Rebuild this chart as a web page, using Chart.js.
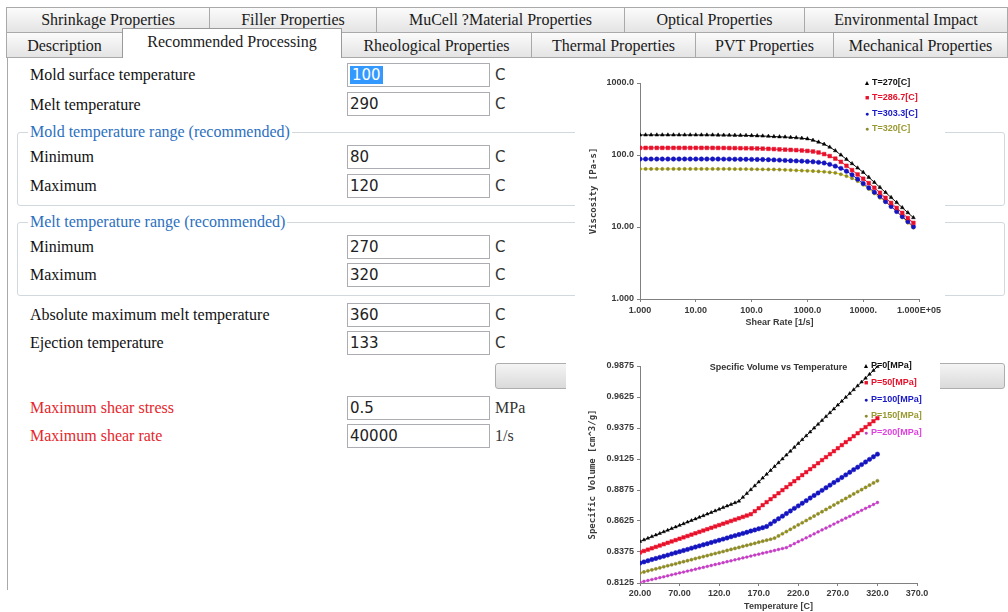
<!DOCTYPE html>
<html><head><meta charset="utf-8">
<script src="https://cdn.jsdelivr.net/npm/chart.js@4"></script>
<style>
html,body{margin:0;padding:0;background:#fff;}
body{width:1008px;height:612px;position:relative;overflow:hidden;font-family:"Liberation Serif","Times New Roman",serif;color:#111;}
.tab{position:absolute;box-sizing:border-box;border:1px solid #a9a9a9;border-bottom:none;background:linear-gradient(#fbfbfb,#e4e4e4);font-size:16px;text-align:center;white-space:nowrap;color:#1a1a1a;}
.sel{background:#fff;z-index:3;border-color:#9a9a9a;}
.lbl{position:absolute;left:30px;height:20px;line-height:20px;font-size:16px;white-space:nowrap;}
.blue{color:#2b70c0;background:#fff;padding:0 2px;left:28px;}
.red{color:#e5262b;}
.inp{position:absolute;left:347px;width:143px;height:24px;box-sizing:border-box;border:1px solid #abadb3;background:#fff;font-family:"DejaVu Sans",sans-serif;font-size:15px;line-height:22px;padding-left:2px;color:#222;}
.unit{position:absolute;left:495px;height:24px;line-height:24px;font-family:"DejaVu Sans",sans-serif;font-size:15px;color:#333;}
.unit.s{font-family:"Liberation Serif",serif;font-size:16px;}
.grp{position:absolute;left:17px;width:988px;box-sizing:border-box;border:1px solid #d2d9de;border-radius:3px;}
.hl{background:#3399ff;color:#fff;padding:0 2px;}
.btn{position:absolute;left:495px;top:363px;width:510px;height:26px;box-sizing:border-box;border:1px solid #adadad;border-radius:3px;background:linear-gradient(#f4f4f4,#dadada);}
.chartbox{position:absolute;background:#fff;z-index:5;}
.leg{position:absolute;font-family:"Liberation Sans",Arial,sans-serif;font-weight:bold;font-size:9px;line-height:11px;white-space:nowrap;z-index:6;}
.leg span.m{display:inline-block;width:8px;text-align:center;font-size:7px;margin-right:1px;}
</style>
</head>
<body>
<!-- tabs row 1 -->
<div class="tab" style="left:6px;top:7px;width:204px;height:25px;line-height:24px;">Shrinkage Properties</div>
<div class="tab" style="left:209px;top:7px;width:168px;height:25px;line-height:24px;">Filler Properties</div>
<div class="tab" style="left:376px;top:7px;width:249px;height:25px;line-height:24px;">MuCell ?Material Properties</div>
<div class="tab" style="left:624px;top:7px;width:181px;height:25px;line-height:24px;">Optical Properties</div>
<div class="tab" style="left:804px;top:7px;width:204px;height:25px;line-height:24px;">Environmental Impact</div>
<!-- tabs row 2 -->
<div class="tab" style="left:6px;top:32px;width:117px;height:25px;line-height:26px;">Description</div>
<div class="tab sel" style="left:122px;top:28px;width:220px;height:30px;line-height:26px;">Recommended Processing</div>
<div class="tab" style="left:341px;top:32px;width:191px;height:25px;line-height:26px;">Rheological Properties</div>
<div class="tab" style="left:531px;top:32px;width:165px;height:25px;line-height:26px;">Thermal Properties</div>
<div class="tab" style="left:695px;top:32px;width:139px;height:25px;line-height:26px;">PVT Properties</div>
<div class="tab" style="left:833px;top:32px;width:175px;height:25px;line-height:26px;">Mechanical Properties</div>
<!-- panel border -->
<div style="position:absolute;left:6px;top:57px;width:1002px;height:1px;background:#a9a9a9;z-index:2;"></div>
<div style="position:absolute;left:7px;top:57px;width:1px;height:533px;background:#a9a9a9;"></div>

<!-- group boxes -->
<div class="grp" style="top:132px;height:74px;"></div>
<div class="grp" style="top:222px;height:74px;"></div>

<div class="lbl" style="top:65px;">Mold surface temperature</div>
<div class="lbl" style="top:95px;">Melt temperature</div>
<div class="lbl blue" style="top:122px;">Mold temperature range (recommended)</div>
<div class="lbl" style="top:147px;">Minimum</div>
<div class="lbl" style="top:176px;">Maximum</div>
<div class="lbl blue" style="top:212px;">Melt temperature range (recommended)</div>
<div class="lbl" style="top:237px;">Minimum</div>
<div class="lbl" style="top:265px;">Maximum</div>
<div class="lbl" style="top:305px;">Absolute maximum melt temperature</div>
<div class="lbl" style="top:333px;">Ejection temperature</div>
<div class="lbl red" style="top:398px;">Maximum shear stress</div>
<div class="lbl red" style="top:426px;">Maximum shear rate</div>

<div class="inp" style="top:63px;"><span class="hl">100</span></div><div class="unit" style="top:63px;">C</div>
<div class="inp" style="top:92px;">290</div><div class="unit" style="top:92px;">C</div>
<div class="inp" style="top:145px;">80</div><div class="unit" style="top:145px;">C</div>
<div class="inp" style="top:174px;">120</div><div class="unit" style="top:174px;">C</div>
<div class="inp" style="top:235px;">270</div><div class="unit" style="top:235px;">C</div>
<div class="inp" style="top:263px;">320</div><div class="unit" style="top:263px;">C</div>
<div class="inp" style="top:303px;">360</div><div class="unit" style="top:303px;">C</div>
<div class="inp" style="top:331px;">133</div><div class="unit" style="top:331px;">C</div>
<div class="btn"></div>
<div class="inp" style="top:396px;">0.5</div><div class="unit s" style="top:396px;">MPa</div>
<div class="inp" style="top:424px;">40000</div><div class="unit s" style="top:424px;">1/s</div>

<div class="chartbox" style="left:575px;top:62px;width:370px;height:270px;"><canvas id="c1" width="370" height="270"></canvas></div>
<div class="chartbox" style="left:566px;top:338px;width:374px;height:274px;"><canvas id="c2" width="374" height="274"></canvas></div>
<div id="leg1"></div>
<div id="leg2"></div>
<div class="leg" style="left:640px;width:277px;top:362px;text-align:center;color:#333;">Specific Volume vs Temperature</div>

<script>
// ---------- Viscosity chart data ----------
const shearRates = [1,1.26,1.58,2,2.51,3.16,3.98,5.01,6.31,7.94,
  10,12.6,15.8,20,25.1,31.6,39.8,50.1,63.1,79.4,
  100,126,158,200,251,316,398,501,631,794,
  1000,1259,1585,1995,2512,3162,3981,5012,6310,7943,
  10000,12589,15849,19953,25119,31623,39811,50119,63096,79433];
const viscT270 = [190.1,190.1,190.1,190.0,190.0,190.0,190.0,190.0,190.0,190.0,190.0,190.0,
  189.7,189.7,189.2,188.8,188.4,187.9,187.5,187.1,186.2,184.9,183.7,182.0,180.3,179.1,177.8,175.8,173.8,171.0,
  167.9,160.3,151.4,141.3,128.8,114.8,100.0,87.1,75.9,66.1,57.5,49.0,41.7,35.5,30.2,25.7,21.9,18.6,15.8,13.5];
const viscT286 = [125.6,125.6,125.6,125.6,125.6,125.6,125.6,125.6,125.6,125.6,125.6,125.6,125.6,
  125.5,125.3,125.2,124.9,124.6,124.3,124.0,123.8,123.3,122.6,121.8,120.8,119.7,118.7,117.9,116.8,115.5,
  113.9,111.9,108.4,102.9,96.6,89.1,80.4,70.8,61.7,53.7,46.8,40.7,35.1,29.9,25.4,21.6,18.4,15.7,13.3,11.4];
const viscT303 = [87.9,87.9,87.9,87.9,87.9,87.9,87.9,87.9,87.9,87.9,87.9,87.9,87.9,87.9,87.9,
  87.7,87.7,87.5,87.3,87.1,86.9,86.7,86.5,86.1,85.5,84.9,84.1,83.4,82.8,82.2,
  81.3,80.4,79.1,77.6,74.1,70.0,65.3,59.6,53.1,46.2,40.3,35.1,30.5,26.6,22.6,19.3,16.4,14.0,11.9,10.1];
const viscT320 = [64.0,64.0,64.0,64.0,64.0,64.0,64.0,64.0,64.0,64.0,64.0,64.0,64.0,64.0,64.0,64.0,64.0,
  63.8,63.8,63.7,63.5,63.4,63.2,63.1,63.0,62.7,62.2,61.8,61.2,60.7,
  60.3,59.8,59.2,58.5,57.5,56.5,54.0,50.9,47.5,43.4,38.6,33.7,29.3,25.5,22.2,19.4,16.5,13.6,11.5,9.8];
const viscLabels = ['T=270[C]','T=286.7[C]','T=303.3[C]','T=320[C]'];
const shearTicks = [1,10,100,1000,10000,100000];
const shearTickLabels = ['1.000','10.00','100.0','1000.0','10000.','1.000E+05'];
const viscTicks = [1,10,100,1000];
const viscTickLabels = ['1.000','10.00','100.0','1000.0'];

// ---------- PVT chart data ----------
const temps = [20,25,30,35,40,45,50,55,60,65,70,75,80,85,90,95,100,105,110,115,120,125,130,135,140,145,150,155,160,165,170,175,180,185,190,195,200,205,210,215,220,225,230,235,240,245,250,255,260,265,270,275,280,285,290,295,300,305,310,315,320];
const svP0 = [0.8460,0.8473,0.8486,0.8499,0.8512,0.8525,0.8538,0.8551,0.8564,0.8577,0.8590,0.8603,0.8616,0.8629,0.8642,0.8655,0.8668,0.8681,0.8694,0.8707,0.8720,0.8733,0.8746,0.8759,0.8772,0.8785,
  0.8816,0.8847,0.8878,0.8909,0.8940,0.8971,0.9002,0.9033,0.9064,0.9095,0.9126,0.9157,0.9188,0.9219,0.9250,0.9281,0.9312,0.9343,0.9374,0.9405,0.9436,0.9467,0.9498,0.9529,0.9560,0.9591,0.9622,0.9653,0.9684,0.9715,0.9746,0.9777,0.9808,0.9839,0.9870];
const svP50 = [0.8372,0.8383,0.8394,0.8405,0.8416,0.8427,0.8438,0.8449,0.8460,0.8471,0.8482,0.8493,0.8504,0.8515,0.8526,0.8537,0.8548,0.8559,0.8570,0.8581,0.8592,0.8603,0.8614,0.8625,0.8636,0.8647,0.8658,0.8669,0.8680,
  0.8704,0.8728,0.8753,0.8777,0.8801,0.8825,0.8849,0.8874,0.8898,0.8922,0.8946,0.8970,0.8995,0.9019,0.9043,0.9067,0.9091,0.9116,0.9140,0.9164,0.9188,0.9212,0.9237,0.9261,0.9285,0.9309,0.9333,0.9358,0.9382,0.9406,0.9430,0.9454];
const svP100 = [0.8286,0.8295,0.8304,0.8314,0.8323,0.8332,0.8341,0.8350,0.8360,0.8369,0.8378,0.8387,0.8396,0.8406,0.8415,0.8424,0.8433,0.8442,0.8452,0.8461,0.8470,0.8479,0.8488,0.8498,0.8507,0.8516,0.8525,0.8534,0.8544,0.8553,0.8562,0.8571,0.8581,
  0.8602,0.8623,0.8643,0.8664,0.8685,0.8706,0.8727,0.8747,0.8768,0.8789,0.8810,0.8831,0.8851,0.8872,0.8893,0.8914,0.8935,0.8955,0.8976,0.8997,0.9018,0.9039,0.9059,0.9080,0.9101,0.9122,0.9143,0.9164];
const svP150 = [0.8206,0.8214,0.8223,0.8231,0.8239,0.8247,0.8256,0.8264,0.8272,0.8280,0.8289,0.8297,0.8305,0.8313,0.8322,0.8330,0.8338,0.8346,0.8355,0.8363,0.8371,0.8379,0.8388,0.8396,0.8404,0.8412,0.8421,0.8429,0.8437,0.8445,0.8454,0.8462,0.8470,0.8478,0.8487,
  0.8505,0.8522,0.8540,0.8558,0.8576,0.8594,0.8611,0.8629,0.8647,0.8665,0.8683,0.8700,0.8718,0.8736,0.8754,0.8772,0.8789,0.8807,0.8825,0.8843,0.8861,0.8878,0.8896,0.8914,0.8932,0.8949];
const svP200 = [0.8130,0.8138,0.8145,0.8153,0.8160,0.8168,0.8175,0.8183,0.8191,0.8198,0.8206,0.8213,0.8221,0.8228,0.8236,0.8244,0.8251,0.8259,0.8266,0.8274,0.8281,0.8289,0.8297,0.8304,0.8312,0.8319,0.8327,0.8334,0.8342,0.8350,0.8357,0.8365,0.8372,0.8380,0.8387,0.8395,0.8403,0.8410,
  0.8426,0.8442,0.8458,0.8473,0.8489,0.8505,0.8521,0.8537,0.8553,0.8568,0.8584,0.8600,0.8616,0.8632,0.8648,0.8663,0.8679,0.8695,0.8711,0.8727,0.8742,0.8758,0.8774];
const pvtLabels = ['P=0[MPa]','P=50[MPa]','P=100[MPa]','P=150[MPa]','P=200[MPa]'];
const tempTicks = [20,70,120,170,220,270,320,370];
const tempTickLabels = ['20.00','70.00','120.0','170.0','220.0','270.0','320.0','370.0'];
const svTicks = [0.8125,0.8375,0.8625,0.8875,0.9125,0.9375,0.9625,0.9875];
const svTickLabels = ['0.8125','0.8375','0.8625','0.8875','0.9125','0.9375','0.9625','0.9875'];

// ---------- styles ----------
const viscStyles = [
  {line:'#111111', pt:'#000000', shape:'triangle', r:2.2, glyph:'\u25B2', text:'#111111'},
  {line:'#f01830', pt:'#e8102a', shape:'rect', r:2.6, glyph:'\u25A0', text:'#e8102a'},
  {line:'#2020d0', pt:'#1515c0', shape:'circle', r:2.2, glyph:'\u25CF', text:'#1818c8'},
  {line:'#e6d800', pt:'#8c8a30', shape:'circle', r:1.6, glyph:'\u25CF', text:'#9a9830'}
];
const pvtStyles = [
  {line:'#111111', pt:'#000000', shape:'triangle', r:2.0, glyph:'\u25B2', text:'#111111'},
  {line:'#f01830', pt:'#e8102a', shape:'rect', r:2.5, glyph:'\u25A0', text:'#e8102a'},
  {line:'#2020d0', pt:'#1515c0', shape:'circle', r:2.2, glyph:'\u25CF', text:'#1818c8'},
  {line:'#d8d000', pt:'#8c8a30', shape:'circle', r:1.6, glyph:'\u25CF', text:'#9a9830'},
  {line:'#f050f0', pt:'#c040c0', shape:'circle', r:1.4, glyph:'\u25CF', text:'#e040e0'}
];

const tickFont = {family:'"Liberation Sans", Arial, sans-serif', size:9, weight:'bold'};
const yTitleFont = {family:'"DejaVu Sans Mono", monospace', size:9, weight:'bold'};
const gridOpt = {display:true, drawOnChartArea:false, drawTicks:true, tickLength:3, color:'#808080'};
const borderOpt = {display:true, color:'#808080', width:1};

function mkDs(xs, ys, label, st){
  return {label, data: xs.map((x,i)=>({x, y: ys[i]})), borderColor: st.line, borderWidth: 1,
    pointStyle: st.shape, pointRadius: st.r, pointBackgroundColor: st.pt, pointBorderColor: st.pt,
    pointBorderWidth: 0.5, fill:false, tension:0};
}

const viscSeries = [viscT270, viscT286, viscT303, viscT320];
new Chart(document.getElementById('c1'), {
  type:'line',
  data:{datasets: viscSeries.map((s,k)=>mkDs(shearRates, s, viscLabels[k], viscStyles[k]))},
  options:{
    responsive:false, animation:false, devicePixelRatio:1,
    layout:{padding:{top:21,right:26,left:0,bottom:0}},
    plugins:{legend:{display:false}, tooltip:{enabled:false}},
    scales:{
      x:{type:'logarithmic', min:1, max:100000,
        afterBuildTicks:s=>{s.ticks = shearTicks.map(v=>({value:v}));},
        afterFit:s=>{s.height = 33;},
        ticks:{callback:(v,i)=>shearTickLabels[i], font:tickFont, color:'#3a3a3a', padding:3, maxRotation:0, autoSkip:false},
        grid:gridOpt, border:borderOpt,
        title:{display:true, text:'Shear Rate [1/s]', font:tickFont, color:'#3a3a3a', padding:{top:0,bottom:4}}},
      y:{type:'logarithmic', min:1, max:1000,
        afterBuildTicks:s=>{s.ticks = viscTicks.map(v=>({value:v}));},
        afterFit:s=>{s.width = 65;},
        ticks:{callback:(v,i)=>viscTickLabels[i], font:tickFont, color:'#3a3a3a', padding:3, autoSkip:false},
        grid:gridOpt, border:borderOpt,
        title:{display:true, text:'Viscosity [Pa-s]', font:yTitleFont, color:'#3a3a3a', padding:{top:13,bottom:0}}}
    }
  }
});

const pvtSeries = [svP0, svP50, svP100, svP150, svP200];
new Chart(document.getElementById('c2'), {
  type:'line',
  data:{datasets: pvtSeries.map((s,k)=>mkDs(temps, s, pvtLabels[k], pvtStyles[k]))},
  options:{
    responsive:false, animation:false, devicePixelRatio:1,
    layout:{padding:{top:28,right:23,left:0,bottom:0}},
    plugins:{legend:{display:false}, tooltip:{enabled:false}},
    scales:{
      x:{type:'linear', min:20, max:370,
        afterBuildTicks:s=>{s.ticks = tempTicks.map(v=>({value:v}));},
        afterFit:s=>{s.height = 29;},
        ticks:{callback:(v,i)=>tempTickLabels[i], font:tickFont, color:'#3a3a3a', padding:2, maxRotation:0, autoSkip:false},
        grid:gridOpt, border:borderOpt,
        title:{display:true, text:'Temperature [C]', font:tickFont, color:'#3a3a3a', padding:{top:0,bottom:0}}},
      y:{type:'linear', min:0.8125, max:0.9875,
        afterBuildTicks:s=>{s.ticks = svTicks.map(v=>({value:v}));},
        afterFit:s=>{s.width = 74;},
        ticks:{callback:(v,i)=>svTickLabels[i], font:tickFont, color:'#3a3a3a', padding:3, autoSkip:false},
        grid:gridOpt, border:borderOpt,
        title:{display:true, text:'Specific Volume [cm^3/g]', font:yTitleFont, color:'#3a3a3a', padding:{top:21,bottom:0}}}
    }
  }
});

// HTML legends built from series labels
function buildLegend(id, labels, styles, left, top, step){
  const el = document.getElementById(id);
  labels.forEach((t,k)=>{
    const d = document.createElement('div');
    d.className = 'leg';
    d.style.left = left + 'px';
    d.style.top = (top + k*step) + 'px';
    d.style.color = styles[k].text;
    d.innerHTML = '<span class="m" style="color:'+styles[k].pt+'">'+styles[k].glyph+'</span>' + t;
    el.appendChild(d);
  });
}
buildLegend('leg1', viscLabels, viscStyles, 863, 77, 15.3);
buildLegend('leg2', pvtLabels, pvtStyles, 862, 360, 16.8);
</script>
</body></html>
